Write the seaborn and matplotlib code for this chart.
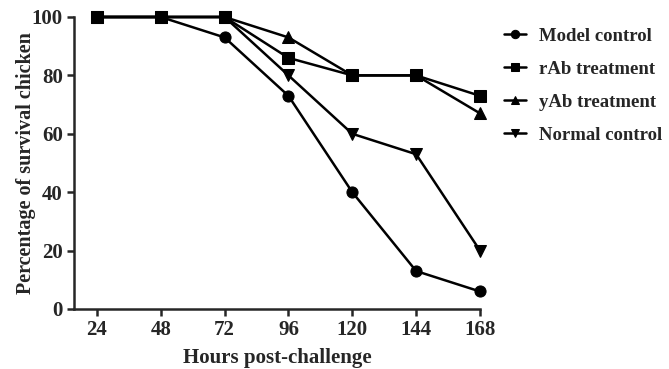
import matplotlib
matplotlib.use("Agg")
import matplotlib.pyplot as plt
import seaborn as sns
import pandas as pd

hours = [24, 48, 72, 96, 120, 144, 168]
model_control = [100, 100, 93, 73, 40, 13, 6]
rab_treatment = [100, 100, 100, 86, 80, 80, 73]
yab_treatment = [100, 100, 100, 93, 80, 80, 67]
normal_control = [100, 100, 100, 80, 60, 53, 20]
series_names = ["Model control", "rAb treatment", "yAb treatment", "Normal control"]
y_ticks = [0, 20, 40, 60, 80, 100]

sns.set_style("ticks")
plt.rcParams['font.family'] = ['Liberation Serif', 'DejaVu Serif']
plt.rcParams['font.weight'] = 'bold'

df = pd.DataFrame({
    "Hours": hours * 4,
    "Value": model_control + rab_treatment + yab_treatment + normal_control,
    "Group": sum([[n] * len(hours) for n in series_names], []),
})

fig = plt.figure(figsize=(6.69, 3.69), dpi=100)
ax = fig.add_axes([74/669, 1-309/369, (480-74)/669, (309-17)/369])

markers = {"Model control": "o", "rAb treatment": "s", "yAb treatment": "^", "Normal control": "v"}
sns.lineplot(data=df, x="Hours", y="Value", hue="Group", style="Group",
             markers=markers, dashes=False, palette=["black"]*4,
             linewidth=1.8, markersize=8, markeredgecolor="black",
             ax=ax, clip_on=False, legend=True)
for line in ax.lines:
    line.set_clip_on(False)

ax.set_xlim(15.4, 168)
ax.set_ylim(0, 100)
ax.set_xticks(hours)
ax.set_yticks(y_ticks)
ax.tick_params(axis='both', direction='out', length=5, width=1.8, labelsize=15, pad=3)
for lab in ax.get_xticklabels() + ax.get_yticklabels():
    lab.set_fontweight('bold')
for s in ['left', 'bottom']:
    ax.spines[s].set_linewidth(1.8)
ax.spines['right'].set_visible(False)
ax.spines['top'].set_visible(False)
ax.set_xlabel("Hours post-challenge", fontsize=15, fontweight='bold', labelpad=6)
ax.set_ylabel("Percentage of survival chicken", fontsize=14.5, fontweight='bold', labelpad=-3)

leg = ax.legend(loc='upper left', bbox_to_anchor=(1.04, 0.99), frameon=False,
                fontsize=13.5, handlelength=1.2, handletextpad=0.7, labelspacing=0.85,
                borderaxespad=0, markerscale=0.75)
for t in leg.get_texts():
    t.set_fontweight('bold')

fig.savefig("out.png", dpi=100)
